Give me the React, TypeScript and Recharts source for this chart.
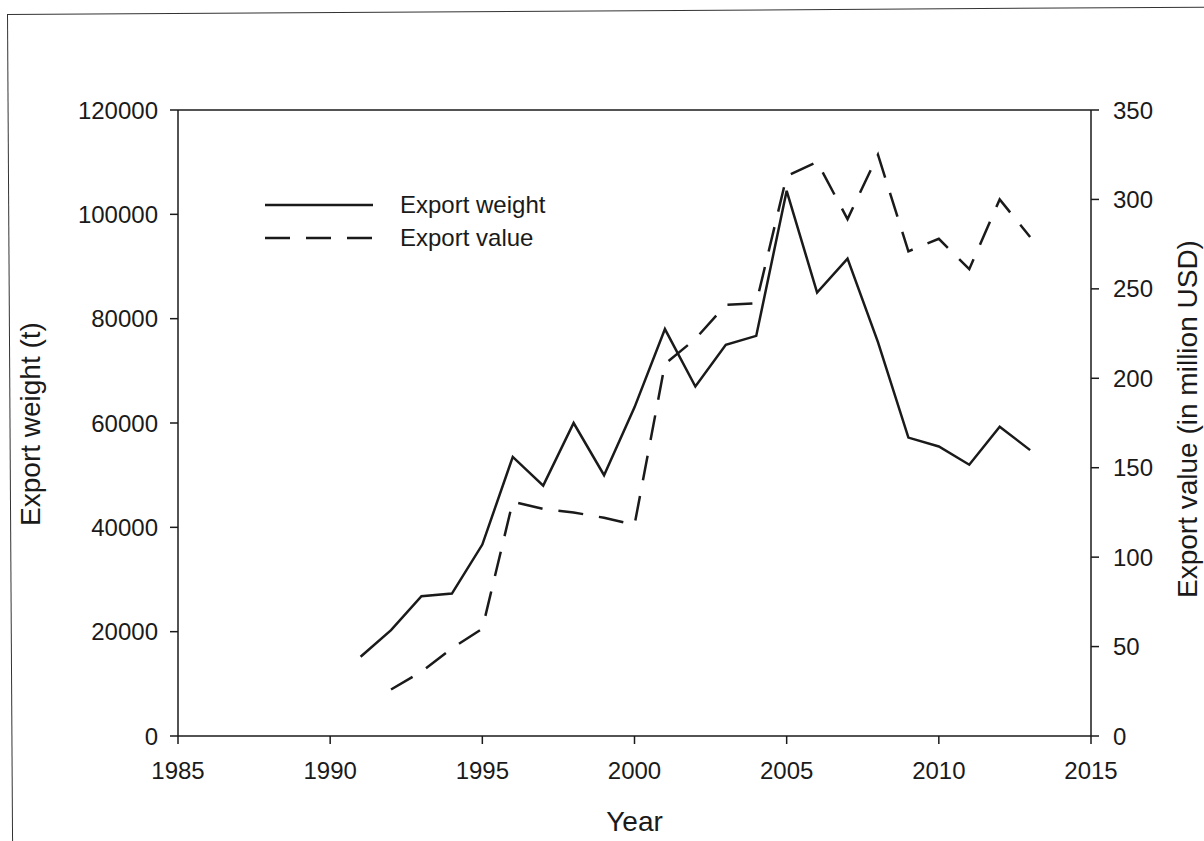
import { LineChart, Line, XAxis, YAxis, ReferenceLine } from 'recharts';

const years = [1991, 1992, 1993, 1994, 1995, 1996, 1997, 1998, 1999, 2000, 2001, 2002, 2003, 2004, 2005, 2006, 2007, 2008, 2009, 2010, 2011, 2012, 2013];
const exportWeight = [15200, 20300, 26800, 27300, 36700, 53500, 48000, 60000, 50000, 63000, 78000, 67000, 75000, 76700, 104500, 85000, 91500, 75500, 57200, 55500, 52000, 59300, 54800];
const exportValue = [null, 26, 36, 49, 60, 131, 127, 125, 122, 118, 208, 222, 241, 242, 313, 321, 289, 325, 271, 278, 261, 300, 279];

const xTicks = [1985, 1990, 1995, 2000, 2005, 2010, 2015];
const weightTicks = [0, 20000, 40000, 60000, 80000, 100000, 120000];
const valueTicks = [0, 50, 100, 150, 200, 250, 300, 350];

const data = years.map((year, i) => ({ year, weight: exportWeight[i], value: exportValue[i] }));

const FONT = '"Liberation Sans", Arial, sans-serif';
const INK = '#1a1a1a';
const tickStyle = { fill: INK, fontSize: 24, fontFamily: FONT };

// legend drawn on top of the chart, outside recharts layout
function LegendBox() {
  return (
    <svg width={320} height={70} style={{ position: 'absolute', left: 263, top: 189 }}>
      <line x1={2} y1={16} x2={110} y2={16} stroke={INK} strokeWidth={2.5} />
      <text x={137} y={24} fontSize={24} fontFamily={FONT} fill={INK}>Export weight</text>
      <line x1={2} y1={49} x2={110} y2={49} stroke={INK} strokeWidth={2.5} strokeDasharray="25 16" />
      <text x={137} y={57} fontSize={24} fontFamily={FONT} fill={INK}>Export value</text>
    </svg>
  );
}

export default function App() {
  return (
    <div style={{ position: 'absolute', left: 0, top: 0, width: 1204, height: 841, background: '#fff', overflow: 'hidden' }}>
      <div style={{ position: 'absolute', left: 7, top: 14, width: 1220, height: 900, borderTop: '1.5px solid #333', borderLeft: '1.5px solid #333', transform: 'rotate(-0.35deg)', transformOrigin: '0 0' }} />
      <LineChart width={1204} height={841} data={data} margin={{ top: 110, right: 53, left: 78, bottom: 45 }}>
        <XAxis
          dataKey="year"
          type="number"
          domain={[1985, 2015]}
          ticks={xTicks}
          tick={tickStyle}
          tickSize={8}
          tickMargin={18}
          height={60}
          axisLine={{ stroke: INK, strokeWidth: 1.5 }}
          tickLine={{ stroke: INK, strokeWidth: 1.5 }}
          label={(p: any) => (
            <text x={p.viewBox.x + p.viewBox.width / 2} y={831} textAnchor="middle" fontSize={28} fontFamily={FONT} fill={INK}>Year</text>
          )}
        />
        <YAxis
          yAxisId="left"
          domain={[0, 120000]}
          ticks={weightTicks}
          tick={tickStyle}
          tickSize={8}
          tickMargin={12}
          width={100}
          interval={0}
          axisLine={{ stroke: INK, strokeWidth: 1.5 }}
          tickLine={{ stroke: INK, strokeWidth: 1.5 }}
          label={(p: any) => (
            <text x={40} y={424} transform="rotate(-90 40 424)" textAnchor="middle" fontSize={28} fontFamily={FONT} fill={INK}>Export weight (t)</text>
          )}
        />
        <YAxis
          yAxisId="right"
          orientation="right"
          domain={[0, 350]}
          ticks={valueTicks}
          tick={tickStyle}
          tickSize={8}
          tickMargin={14}
          width={60}
          interval={0}
          axisLine={{ stroke: INK, strokeWidth: 1.5 }}
          tickLine={{ stroke: INK, strokeWidth: 1.5 }}
          label={(p: any) => (
            <text x={1197} y={419} transform="rotate(-90 1197 419)" textAnchor="middle" fontSize={28} fontFamily={FONT} fill={INK}>Export value (in million USD)</text>
          )}
        />
        <ReferenceLine yAxisId="left" y={120000} stroke={INK} strokeWidth={1.5} />
        <Line yAxisId="left" type="linear" dataKey="weight" name="Export weight" stroke={INK} strokeWidth={2.5} dot={false} isAnimationActive={false} />
        <Line yAxisId="right" type="linear" dataKey="value" name="Export value" stroke={INK} strokeWidth={2.5} strokeDasharray="25 16" dot={false} connectNulls={false} isAnimationActive={false} />
      </LineChart>
      <LegendBox />
    </div>
  );
}
